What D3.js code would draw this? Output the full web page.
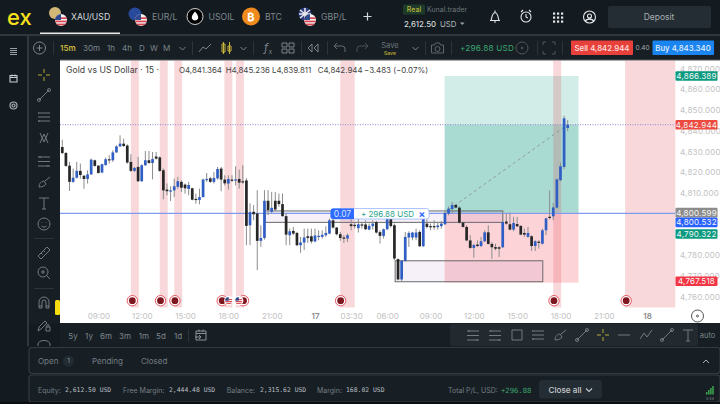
<!DOCTYPE html>
<html>
<head>
<meta charset="utf-8">
<script src="https://cdn.jsdelivr.net/npm/d3@7"></script>
<style>
  html, body { margin: 0; padding: 0; background: #0d1114; overflow: hidden; }
  text { font-family: Inter, "Noto Sans", sans-serif; }
  .mono { font-family: "DejaVu Sans Mono", monospace; }
</style>
</head>
<body>
<svg id="chart" width="720" height="404"></svg>
<script>
// 15m candles, left to right
var opens = [4832.2,4829.3,4823.2,4815.4,4817.4,4820.7,4818.4,4816.8,4819.0,4825.8,4823.2,4819.9,4823.5,4826.3,4825.8,4829.6,4832.5,4833.8,4832.9,4825.0,4820.7,4822.6,4815.7,4823.4,4825.8,4824.5,4827.6,4827.2,4821.0,4811.7,4810.7,4811.3,4813.0,4815.4,4814.1,4812.0,4812.3,4807.2,4806.7,4808.1,4816.5,4817.1,4815.4,4817.1,4821.8,4816.5,4814.6,4816.5,4816.0,4816.8,4815.7,4816.1,4794.5,4801.0,4800.2,4787.0,4788.4,4806.3,4801.0,4806.3,4806.3,4804.7,4798.9,4789.7,4791.8,4790.8,4784.9,4786.2,4789.2,4789.2,4786.7,4788.9,4788.9,4789.7,4790.5,4796.9,4793.4,4790.2,4788.6,4788.1,4795.0,4794.7,4793.1,4794.9,4794.9,4792.4,4794.1,4796.0,4791.2,4789.4,4792.6,4797.7,4794.5,4778.2,4768.4,4777.4,4788.6,4788.6,4788.6,4791.3,4784.4,4795.3,4794.1,4794.1,4793.6,4794.1,4795.0,4800.1,4802.3,4804.3,4803.0,4795.8,4793.7,4787.2,4783.6,4785.2,4784.5,4786.8,4791.1,4785.5,4784.0,4783.9,4783.9,4796.3,4795.0,4792.4,4795.1,4794.2,4790.8,4788.9,4789.2,4784.5,4786.6,4785.6,4792.1,4798.6,4798.8,4803.0,4816.2,4822.6,4841.364];
var highs = [4835.7,4829.8,4825.0,4821.8,4825.0,4824.2,4818.4,4821.0,4826.6,4826.1,4823.5,4824.2,4827.1,4828.2,4830.6,4833.0,4837.8,4836.2,4833.5,4828.7,4822.6,4827.4,4823.9,4830.3,4830.3,4829.8,4829.8,4827.7,4821.8,4814.6,4813.3,4817.0,4817.8,4816.2,4814.6,4815.4,4812.6,4809.7,4812.1,4817.0,4819.7,4817.8,4820.2,4822.6,4822.6,4818.6,4818.6,4818.6,4822.9,4821.3,4823.4,4817.2,4805.0,4804.2,4811.4,4794.5,4811.4,4811.4,4810.6,4810.6,4809.8,4809.8,4800.2,4792.9,4793.7,4791.3,4788.9,4792.9,4792.9,4792.9,4792.9,4792.1,4792.1,4794.0,4797.7,4797.7,4793.7,4791.3,4789.7,4790.5,4797.7,4796.1,4797.7,4795.7,4796.9,4795.3,4796.9,4796.6,4792.1,4792.9,4798.6,4798.6,4795.3,4778.5,4777.7,4791.3,4791.6,4791.3,4792.9,4792.1,4798.6,4797.3,4795.3,4796.9,4796.1,4796.5,4800.9,4803.6,4805.7,4804.6,4803.6,4796.1,4794.5,4789.7,4785.6,4787.2,4788.9,4792.1,4794.5,4786.4,4785.6,4784.4,4801.7,4800.1,4800.6,4798.5,4798.5,4794.5,4792.9,4793.7,4789.7,4787.3,4787.3,4792.9,4798.2,4811.3,4805.2,4817.0,4824.7,4847.2,4845.236];
var lows = [4828.7,4822.6,4811.0,4814.9,4817.0,4817.0,4812.1,4814.6,4818.7,4822.6,4819.4,4819.5,4823.2,4824.2,4825.0,4829.3,4832.2,4832.2,4824.2,4820.2,4820.2,4815.4,4815.4,4823.1,4824.2,4816.6,4826.1,4820.2,4807.0,4808.9,4806.2,4808.1,4812.1,4810.5,4809.7,4808.9,4806.5,4804.9,4804.6,4807.8,4815.4,4815.0,4814.6,4816.5,4810.9,4813.7,4811.7,4815.4,4813.7,4812.1,4814.5,4784.9,4784.9,4796.9,4772.9,4784.1,4787.6,4799.4,4800.2,4801.4,4803.4,4798.6,4784.9,4784.9,4789.7,4784.4,4781.2,4782.5,4786.0,4785.7,4786.3,4787.3,4788.1,4788.9,4790.2,4792.9,4789.6,4787.0,4786.0,4786.5,4792.1,4792.9,4791.0,4792.9,4792.1,4792.1,4792.4,4790.5,4785.7,4788.1,4792.1,4793.4,4777.7,4768.0,4767.7,4776.9,4784.1,4787.3,4787.3,4784.1,4784.1,4792.9,4792.1,4792.4,4792.4,4792.9,4794.6,4799.3,4800.1,4802.7,4795.3,4793.4,4786.8,4783.2,4778.9,4784.0,4784.0,4786.4,4785.2,4778.3,4782.4,4779.2,4783.6,4794.8,4792.1,4791.7,4793.7,4789.7,4788.9,4788.5,4782.1,4782.1,4783.2,4785.2,4789.7,4797.2,4796.9,4802.5,4815.7,4821.5,4839.811];
var closes = [4829.3,4823.1,4815.4,4817.4,4820.7,4818.7,4816.8,4819.0,4826.1,4823.1,4819.7,4823.9,4826.3,4825.8,4829.6,4832.5,4833.8,4832.7,4824.7,4820.7,4822.1,4815.7,4823.4,4825.8,4824.5,4826.4,4826.6,4820.7,4811.3,4810.9,4811.3,4813.3,4815.7,4812.6,4812.3,4813.9,4806.8,4806.7,4808.1,4816.5,4816.8,4815.4,4817.3,4821.6,4816.5,4814.7,4816.8,4816.0,4816.6,4815.0,4815.2,4794.2,4800.8,4799.8,4787.0,4788.4,4806.3,4801.8,4802.9,4802.1,4804.7,4798.9,4790.0,4791.6,4790.5,4784.9,4786.2,4788.6,4788.4,4786.7,4789.6,4789.4,4789.9,4790.8,4796.9,4793.4,4790.2,4788.4,4788.3,4789.7,4794.1,4794.1,4795.0,4794.4,4792.6,4794.2,4795.3,4791.0,4789.4,4792.6,4797.7,4794.1,4778.5,4768.4,4777.4,4788.9,4790.8,4791.0,4791.0,4784.4,4797.7,4793.7,4793.6,4793.6,4794.4,4795.3,4800.4,4802.5,4804.3,4803.0,4795.8,4793.7,4787.2,4783.6,4785.0,4784.5,4786.8,4791.1,4785.5,4783.9,4783.2,4783.2,4796.1,4795.3,4792.4,4795.6,4794.0,4790.0,4790.0,4790.8,4784.5,4786.8,4786.0,4792.1,4797.8,4798.0,4803.1,4816.6,4822.9,4846.0,4842.944];

// 4,800 and 4,790 sit fully behind the price tags, so they are left out
var priceTicks = [4870,4860,4850,4840,4830,4820,4810,4780,4770,4760];
var timeTickIndex = [10,22,34,46,58,70,80,90,102,114,126,138,150,162];
var timeLabels = ["09:00","12:00","15:00","18:00","21:00","17","03:30","06:00","09:00","12:00","15:00","18:00","21:00","18"];

// news bands, in candle positions
var bandStarts = [19,27,31,44.9,48.1,77,136,155.9];
var bandEnds = [21.2,29.2,33.2,47.1,50.3,81,138.2,169.8];
var markerIndex = [19.4,27.2,31.2,44.3,50.2,77.1,136.2,156.2];
var flagIndex = [46.1,48.9];

// trade levels
var entryPrice = 4800.532;
var lastPrice = 4842.944;
var takeProfit = 4866.389;
var stopLoss = 4767.518;
var positionFrom = 105.9;
var positionTo = 143;

// boxes: from index, to index, upper price, lower price
var boxFrom = [56.2,92.2];
var boxTo = [122,133.1];
var boxTop = [4801.4,4777.4];
var boxBottom = [4795.9,4767.3];

// price tags on the axis
var tagPrices = [4866.389,4842.944,4800.6,4795.9,4790.322,4767.518];
var tagLabels = ["4,866.389","4,842.944","4,800.599","4,800.532","4,790.322","4,767.518"];
var tagColors = ["#0a9a80","#ee4a40","#8c8c8c","#2a62ff","#0a9a80","#f23645"];

var svg = d3.select("#chart");

// scales
var x = d3.scaleLinear().domain([0, 140]).range([62.3, 567.7]);
var y = d3.scaleLinear().domain([4760, 4870]).range([296.9, 68.5]);

function txt(g, px, py, s, size, fill, anchor, weight) {
  return g.append("text").attr("x", px).attr("y", py).attr("font-size", size)
    .attr("fill", fill).attr("text-anchor", anchor || "start")
    .attr("font-weight", weight || 400).attr("dominant-baseline", "central").text(s);
}

function box(g, px, py, w, h, fill, r) {
  return g.append("rect").attr("x", px).attr("y", py).attr("width", w).attr("height", h)
    .attr("fill", fill).attr("rx", r || 0);
}

// stroked icon, drawn in a 14x14 box around px,py
function icon(g, px, py, d, color, sw) {
  return g.append("path").attr("transform", `translate(${px - 7}, ${py - 7})`)
    .attr("d", d).attr("fill", "none").attr("stroke", color || "#7d858a")
    .attr("stroke-width", sw || 1);
}

var icons = {
  cross: "M7 1V5M7 9V13M1 7H5M9 7H13",
  trend: "M2 12L12 2M3.5 12a1.5 1.5 0 1 1-3 0a1.5 1.5 0 1 1 3 0M13.5 2a1.5 1.5 0 1 1-3 0a1.5 1.5 0 1 1 3 0",
  lines: "M1 3H13M1 7H13M1 11H13M1 3h1M1 11h2",
  fib: "M3 2L7 11L11 2M3 12L7 3L11 12",
  rows: "M1 3H13M1 7.5H13M1 12H13M3 2V4M11 11V13",
  brush: "M2 12C2 8 5 6 7 6L9 9C8 11 5 12 2 12ZM8 6L13 2",
  text: "M2 2H12M7 2V13M5 13H9",
  smile: "M13 7a6 6 0 1 1-12 0a6 6 0 1 1 12 0M5 5.5V6M9 5.5V6M4.5 9C6 10.5 8 10.5 9.5 9",
  ruler: "M1 10L10 1L13 4L4 13ZM4 7L5.5 8.5M6.5 4.5L8 6",
  zoom: "M11 6a5 5 0 1 1-10 0a5 5 0 1 1 10 0M4 6H8M6 4V8M9.5 9.5L13 13",
  magnet: "M2 12V6a5 5 0 0 1 10 0V12H9V6a2 2 0 0 0-4 0V12ZM2 10H5M9 10H12",
  pencil: "M1 13L2 9L8 3L10 5L4 11ZM9 9h4v4h-4ZM10 9V7.5a1 1 0 0 1 2 0V9",
  rect: "M2 2H12V12H2Z",
  dash: "M1 7H13",
  zig: "M1 11L5 5L8 9L13 2",
  plus: "M13 7a6 6 0 1 1-12 0a6 6 0 1 1 12 0M7 4V10M4 7H10",
  line: "M1 11L5 6L8 8L13 3",
  candle: "M4 1V13M10 1V13M2.5 3h3v8h-3ZM8.5 5h3v5h-3Z",
  tiles: "M1 2h5v4h-5ZM8 2h5v4h-5ZM1 8h5v4h-5ZM8 8h5v4h-5Z",
  rewind: "M6 3L2 7L6 11ZM12 3L8 7L12 11Z",
  undo: "M4 2L1 5L4 8M1 5H9a3 3 0 0 1 3 3V11",
  redo: "M10 2L13 5L10 8M13 5H5a3 3 0 0 0-3 3V11",
  camera: "M1 4H4L5 2H9L10 4H13V12H1ZM9.5 8a2.5 2.5 0 1 1-5 0a2.5 2.5 0 1 1 5 0",
  frame: "M1 4V1H4M10 1H13V4M13 10V13H10M4 13H1V10",
  target: "M13 7a6 6 0 1 1-12 0a6 6 0 1 1 12 0M8 7a1 1 0 1 1-2 0a1 1 0 1 1 2 0",
  caret: "M4 6L7 9L10 6",
  bell: "M3 11C4 9 3.5 4 7 3C10.5 4 10 9 11 11ZM2 11H12M6 12.5H8M7 1V3",
  clock: "M12 8a5 5 0 1 1-10 0a5 5 0 1 1 10 0M7 5V8L9 9M2 3L4 1M12 3L10 1",
  user: "M13 7a6 6 0 1 1-12 0a6 6 0 1 1 12 0M9 6a2 2 0 1 1-4 0a2 2 0 1 1 4 0M3 11C4 8.5 10 8.5 11 11",
  list: "M3.5 4.5H10.5M3.5 6.5H10.5M3.5 8.5H10.5M3.5 10.5H10.5",
  cal: "M3.5 4H10.5V10.5H3.5ZM3.5 6H10.5M5.5 3V5M8.5 3V5",
  gear: "M10.5 7a3.5 3.5 0 1 1-7 0a3.5 3.5 0 1 1 7 0M8.5 7a1.5 1.5 0 1 1-3 0a1.5 1.5 0 1 1 3 0",
  calGo: "M2 3H12V12H2ZM2 5.5H12M5 1.5V4M9 1.5V4M1 9H7M5 7L7 9L5 11"
};

// page chrome
box(svg, 0, 0, 720, 404, "#131b21");
box(svg, 0, 34, 720, 2, "#31383c");
box(svg, 27, 36, 2, 310, "#31383c");
box(svg, 29, 36, 691, 24, "#171f25");
box(svg, 29, 60, 31, 264, "#171f25");
box(svg, 60, 323, 660, 24, "#171f25");

// ---- chart pane ----
box(svg, 60, 60, 660, 263, "#ffffff");
box(svg, 60, 59.5, 660, 1, "#555b5f");

var plot = svg.append("g");

// position tool, profit side splits at the last price
plot.append("rect").attr("x", x(positionFrom)).attr("width", x(positionTo) - x(positionFrom))
  .attr("y", y(takeProfit)).attr("height", y(lastPrice) - y(takeProfit))
  .attr("fill", "rgba(8,153,129,0.18)");
plot.append("rect").attr("x", x(positionFrom)).attr("width", x(positionTo) - x(positionFrom))
  .attr("y", y(lastPrice)).attr("height", y(entryPrice) - y(lastPrice))
  .attr("fill", "rgba(8,153,129,0.35)");
plot.append("rect").attr("x", x(positionFrom)).attr("width", x(positionTo) - x(positionFrom))
  .attr("y", y(entryPrice)).attr("height", y(stopLoss) - y(entryPrice) + 1.4)
  .attr("fill", "rgba(242,54,69,0.21)");

// news bands
plot.selectAll(".band")
  .data(bandStarts)
  .enter()
  .append("rect")
  .attr("class", "band")
  .attr("x", d => x(d))
  .attr("y", 60.5)
  .attr("width", (d, i) => x(bandEnds[i]) - x(d))
  .attr("height", 247)
  .attr("fill", "rgba(220,60,70,0.2)");

// boxes
plot.selectAll(".zone")
  .data(boxFrom)
  .enter()
  .append("rect")
  .attr("class", "zone")
  .attr("x", d => x(d))
  .attr("y", (d, i) => y(boxTop[i]))
  .attr("width", (d, i) => x(boxTo[i]) - x(d))
  .attr("height", (d, i) => y(boxBottom[i]) - y(boxTop[i]))
  .attr("fill", "rgba(150,90,190,0.09)")
  .attr("stroke", "#6a6a6a")
  .attr("stroke-width", 1);

// levels
plot.append("line").attr("x1", 60).attr("x2", 675).attr("y1", y(lastPrice)).attr("y2", y(lastPrice))
  .attr("stroke", "#8f86d0").attr("stroke-width", 1).attr("stroke-dasharray", "1 1.5");
plot.append("line").attr("x1", 60).attr("x2", 675).attr("y1", y(entryPrice) + 0.6).attr("y2", y(entryPrice) + 0.6)
  .attr("stroke", "#7f9bf0").attr("stroke-width", 1.3);

// dashed path of the trade
plot.append("line").attr("x1", x(positionFrom)).attr("x2", x(140))
  .attr("y1", y(entryPrice)).attr("y2", y(lastPrice))
  .attr("stroke", "#8f9c98").attr("stroke-width", 1).attr("stroke-dasharray", "3 3");

// candles
var candles = plot.selectAll(".candle")
  .data(opens)
  .enter()
  .append("g")
  .attr("class", "candle");

candles.append("line")
  .attr("x1", (d, i) => x(i))
  .attr("x2", (d, i) => x(i))
  .attr("y1", (d, i) => y(highs[i]))
  .attr("y2", (d, i) => y(lows[i]))
  .attr("stroke", "#8c8c8c")
  .attr("stroke-width", 1);

candles.append("rect")
  .attr("x", (d, i) => x(i) - 1.35)
  .attr("width", 2.7)
  .attr("y", (d, i) => y(Math.max(d, closes[i])))
  .attr("height", (d, i) => Math.max(1.2, Math.abs(y(d) - y(closes[i]))))
  .attr("fill", (d, i) => closes[i] >= d ? "#2f5ec4" : "#262626");

// order pill on the entry line
var pill = svg.append("g");
box(pill, 331, 208.5, 98, 10.5, "#ffffff", 2.5).attr("stroke", "#9db8ff").attr("stroke-width", 0.8);
pill.append("path").attr("d", "M333 208.5H354V219H333a2.5 2.5 0 0 1-2.5-2.5V211a2.5 2.5 0 0 1 2.5-2.5Z").attr("fill", "#2f6bff");
txt(pill, 342.5, 214, "0.07", 8.5, "#d8e4ff", "middle");
txt(pill, 387.5, 214, "+ 296.88 USD", 8, "#2aa58c", "middle");
txt(pill, 422, 214, "×", 10, "#2f6bff", "middle", 700);

// axes
var yAxis = d3.axisRight(y).tickValues(priceTicks).tickSize(0).tickPadding(0).tickFormat(d3.format(",.3f"));
var yG = svg.append("g").attr("transform", "translate(680, 0)").call(yAxis);
yG.select(".domain").remove();
yG.selectAll("text").attr("font-size", 8).attr("fill", "#c2c2c2").attr("letter-spacing", 0.2);

var xAxis = d3.axisBottom(x).tickValues(timeTickIndex).tickSize(0).tickPadding(0)
  .tickFormat((d, i) => timeLabels[i]);
var xG = svg.append("g").attr("transform", "translate(0, 313)").call(xAxis);
xG.select(".domain").remove();
xG.selectAll("text").attr("font-size", 8).attr("fill", (d, i) => timeLabels[i].length < 3 ? "#8a8a8a" : "#c2c2c2")
  .attr("font-weight", (d, i) => timeLabels[i].length < 3 ? 600 : 400);

// axis price tags
tagPrices.forEach(function (p, i) {
  box(svg, 675.5, y(p) - 4.8, 42, 9.6, tagColors[i], 1);
  txt(svg, 696.5, y(p), tagLabels[i], 8, "#f4f6f6", "middle").attr("letter-spacing", 0.2);
});

// event markers
function usFlag(g, px, py, r) {
  var id = "f" + Math.round(px * 10) + Math.round(py * 10);
  g.append("clipPath").attr("id", id).append("circle").attr("cx", px).attr("cy", py).attr("r", r);
  var f = g.append("g").attr("clip-path", `url(#${id})`);
  box(f, px - r, py - r, r * 2, r * 2, "#f4f4f4");
  [-0.45, 0.1, 0.6].forEach(function (k) { box(f, px - r, py + k * r, r * 2, r * 0.28, "#d9434e"); });
  box(f, px - r, py - r, r, r, "#2f4a8c");
}

markerIndex.forEach(function (d) {
  var m = svg.append("g");
  m.append("circle").attr("cx", x(d)).attr("cy", 300.7).attr("r", 5.2).attr("fill", "#ffffff").attr("stroke", "#e04550").attr("stroke-width", 0.9);
  m.append("circle").attr("cx", x(d)).attr("cy", 300.7).attr("r", 3.4).attr("fill", "#7e1620");
});
flagIndex.forEach(function (d) {
  svg.append("circle").attr("cx", x(d)).attr("cy", 300.7).attr("r", 4.6).attr("fill", "#ffffff");
  usFlag(svg, x(d), 300.7, 3.6);
});

icon(svg, 697.5, 316, icons.target, "#555", 1);

// legend
txt(svg, 66, 70, "Gold vs US Dollar · 15 ·", 8.7, "#3d3d3d");
txt(svg, 179, 70, "O4,841.364", 7.9, "#454545");
txt(svg, 225.7, 70, "H4,845.236", 7.9, "#454545");
txt(svg, 272, 70, "L4,839.811", 7.9, "#454545");
txt(svg, 317.7, 70, "C4,842.944", 7.9, "#454545");
txt(svg, 364, 70, "−3.483 (−0.07%)", 7.9, "#454545");

// ---- top bar ----
txt(svg, 7, 16.5, "ex", 22, "#f7e11b", "start", 500);

function usFlagTab(px, py) { usFlag(svg, px, py, 6); }

svg.append("circle").attr("cx", 55).attr("cy", 13).attr("r", 6).attr("fill", "#d3b777");
usFlagTab(61, 20);
txt(svg, 71, 16.5, "XAU/USD", 8.7, "#d5d9dc");
box(svg, 40, 32.5, 80, 1.5, "#e8e8e8");

svg.append("circle").attr("cx", 135).attr("cy", 14).attr("r", 6.5).attr("fill", "#274a9c");
usFlagTab(141, 20);
txt(svg, 152, 16.5, "EUR/L", 8.7, "#7f878d");

svg.append("circle").attr("cx", 195).attr("cy", 16.5).attr("r", 8).attr("fill", "#000").attr("stroke", "#fff").attr("stroke-width", 0.8);
svg.append("path").attr("d", "M195 11.5C192 15 191.5 17 192 18.5a3.2 3.2 0 0 0 6 0C198.5 17 198 15 195 11.5Z").attr("fill", "#fff");
txt(svg, 208.5, 16.5, "USOIL", 8.7, "#7f878d");

svg.append("circle").attr("cx", 251).attr("cy", 16.5).attr("r", 9).attr("fill", "#f08a1d");
txt(svg, 251, 16.5, "₿", 11, "#fff", "middle", 700);
txt(svg, 265, 16.5, "BTC", 8.7, "#7f878d");

svg.append("circle").attr("cx", 305).attr("cy", 14).attr("r", 6.5).attr("fill", "#2d3f80");
svg.append("path").attr("d", "M300 10L310 18M310 10L300 18M305 8V20M299 14H311").attr("stroke", "#e8e8ee").attr("stroke-width", 1.6);
usFlagTab(310, 20);
txt(svg, 321, 16.5, "GBP/L", 8.7, "#7f878d");

icon(svg, 367.5, 16.5, "M7 3V11M3 7H11", "#d9d9d9", 1.2);

box(svg, 403, 4.5, 22, 10, "#1d3a2a", 1);
txt(svg, 414, 9.8, "Real", 7, "#b8b43a", "middle", 500);
txt(svg, 427, 9.8, "Kunal.trader", 7, "#6d757a");
txt(svg, 404, 23.5, "2,612.50", 7.8, "#d6dadc", "start", 500);
txt(svg, 440, 23.5, "USD", 7.8, "#b0b5b8");
svg.append("path").attr("d", "M460 22.5h4.5l-2.2 2.5Z").attr("fill", "#a0a5a8");

icon(svg, 495, 16.5, icons.bell, "#e4e6e8", 1.1);
icon(svg, 526, 16, icons.clock, "#e4e6e8", 1.1);
[0, 1, 2].forEach(function (r) {
  [0, 1, 2].forEach(function (c) { box(svg, 553 + c * 4, 12.5 + r * 4, 2.2, 2.2, "#e4e6e8"); });
});
icon(svg, 589.5, 17, icons.user, "#e4e6e8", 1.1);
box(svg, 608, 6, 103, 22, "#252d34", 2);
txt(svg, 659, 17, "Deposit", 8.5, "#a6acb0", "middle");

// ---- main toolbar ----
var tbar = svg.append("g");
icon(tbar, 39.5, 48, icons.plus, "#7d858a");
var barSeps = [53, 192, 253, 301, 327, 425, 451, 537, 562];
barSeps.forEach(function (px) { box(tbar, px, 41, 0.8, 14, "#343b40"); });
var frames = ["15m", "30m", "1h", "4h", "D", "W", "M"];
var frameX = [60, 83, 107, 122, 139, 150, 163];
frames.forEach(function (f, i) {
  txt(tbar, frameX[i], 48, f, 8, i === 0 ? "#c9b43c" : "#7d858a", "start", i === 0 ? 600 : 400);
});
icon(tbar, 182.5, 48, icons.caret);
icon(tbar, 205, 48, icons.line);
icon(tbar, 226.5, 48, icons.candle, "#c9b43c");
icon(tbar, 243.5, 48, icons.caret);
txt(tbar, 266, 48, "f", 11, "#7d858a", "middle").attr("font-style", "italic");
txt(tbar, 270.5, 51, "x", 6, "#7d858a", "middle");
icon(tbar, 288, 48, icons.tiles);
icon(tbar, 313, 48, icons.rewind);
icon(tbar, 340, 48, icons.undo, "#656c71");
icon(tbar, 362, 48, icons.redo, "#4a5156");
txt(tbar, 390, 45.5, "Save", 7.5, "#6d757a", "middle");
txt(tbar, 390, 53, "Save", 5, "#b8a834", "middle", 600);
icon(tbar, 415.5, 48, icons.caret);
icon(tbar, 437.5, 48, icons.camera, "#5f676c");
txt(tbar, 460, 48, "+296.88 USD", 8.2, "#3ba56f", "start", 400).attr("letter-spacing", 0.2);
icon(tbar, 522, 48, icons.target, "#4f575c");
icon(tbar, 549, 48, icons.frame, "#4f575c");
box(tbar, 571, 40.5, 62, 14.5, "#e8403a", 1);
txt(tbar, 602, 48, "Sell 4,842.944", 7.8, "#ffe4e2", "middle", 500);
txt(tbar, 642.5, 48, "0.40", 6.5, "#a6acb0", "middle");
box(tbar, 652.5, 40.5, 61.5, 14.5, "#1a84f0", 1);
txt(tbar, 683, 48, "Buy 4,843.340", 7.8, "#e4f0ff", "middle", 500);

// ---- side columns ----
icon(svg, 13.5, 51, icons.list, "#9aa0a4", 1);
icon(svg, 13.5, 78.5, icons.cal, "#c8ccce", 1.1);
icon(svg, 13.5, 105.5, icons.gear, "#a6acb0", 1.2);

var sideIcons = ["cross", "trend", "lines", "fib", "rows", "brush", "text", "smile", "ruler", "zoom", "magnet", "pencil"];
var sideY = [75, 95, 117, 138, 161, 182, 203, 224, 253, 273, 303, 325];
sideIcons.forEach(function (k, i) {
  icon(svg, 44, sideY[i], icons[k], i === 0 ? "#b8a834" : "#737b80");
});
box(svg, 34, 238, 20, 0.8, "#343b40");
box(svg, 34, 288, 20, 0.8, "#343b40");
box(svg, 55, 300, 5, 15, "#f7dc12", 1.5);
svg.append("path").attr("d", "M38 346v-2a6 3.5 0 0 1 12 0v2").attr("fill", "none").attr("stroke", "#737b80");

// ---- range bar ----
var ranges = ["5y", "1y", "6m", "3m", "1m", "5d", "1d"];
var rangeX = [73, 89, 106, 125, 144, 161, 178];
ranges.forEach(function (r, i) { txt(svg, rangeX[i], 335.5, r, 8, "#7d858a", "middle"); });
box(svg, 188, 329, 0.8, 13, "#343b40");
icon(svg, 201, 335, icons.calGo, "#8a9196");

box(svg, 450, 324, 248, 22, "#222a30", 3);
var dockIcons = ["rows", "rows", "rect", "lines", "brush", "trend", "cross", "dash", "zig", "trend", "text"];
var dockX = [473, 495, 517, 538, 560, 582, 603, 624, 646, 667, 688];
dockIcons.forEach(function (k, i) {
  icon(svg, dockX[i], 335, icons[k], i === 6 ? "#b8a834" : "#737b80");
});
txt(svg, 707.5, 335.5, "auto", 7.5, "#7d858a", "middle");

// ---- orders tabs ----
box(svg, 29, 347.5, 691, 26, "#171f25", 3).attr("stroke", "#343b40").attr("stroke-width", 1.2);
txt(svg, 38, 361, "Open", 8, "#757d82");
svg.append("circle").attr("cx", 68.5).attr("cy", 361).attr("r", 5.5).attr("fill", "#222c33");
txt(svg, 68.5, 361, "1", 6.5, "#8a9196", "middle");
txt(svg, 92, 361, "Pending", 8, "#757d82");
txt(svg, 141, 361, "Closed", 8, "#757d82");
icon(svg, 706, 362, "M4 8L7 5L10 8", "#aab0b4", 1);

// ---- account line ----
box(svg, 29, 375, 691, 27, "#171f25", 3).attr("stroke", "#343b40").attr("stroke-width", 1.2);
var acctLabels = ["Equity:", "Free Margin:", "Balance:", "Margin:", "Total P/L, USD:"];
var acctLabelX = [38, 123, 226.7, 317, 448];
acctLabels.forEach(function (s, i) { txt(svg, acctLabelX[i], 390, s, 7, "#757d82"); });
var acctValues = ["2,612.50 USD", "2,444.48 USD", "2,315.62 USD", "168.02 USD"];
var acctValueX = [65, 169, 260, 346];
acctValues.forEach(function (s, i) {
  txt(svg, acctValueX[i], 390, s, 6.4, "#b8bdc0").attr("class", "mono");
});
txt(svg, 501, 390, "+296.88", 7.2, "#3ba56f").attr("class", "mono");
box(svg, 539, 380, 63, 18.5, "#252d34", 3);
txt(svg, 565, 389.5, "Close all", 8.2, "#c5c9cc", "middle", 500);
icon(svg, 589, 389.5, icons.caret, "#c5c9cc", 1.1);
[0, 1, 2, 3].forEach(function (i) { box(svg, 706 + i * 2.1, 392 - i * 2, 1.4, 2.5 + i * 2, "#3fae52"); });
txt(svg, 710, 398.7, "5:48", 3.6, "#7d858a", "middle");
box(svg, 0, 402, 720, 2, "#0b0e10");
</script>
</body>
</html>
